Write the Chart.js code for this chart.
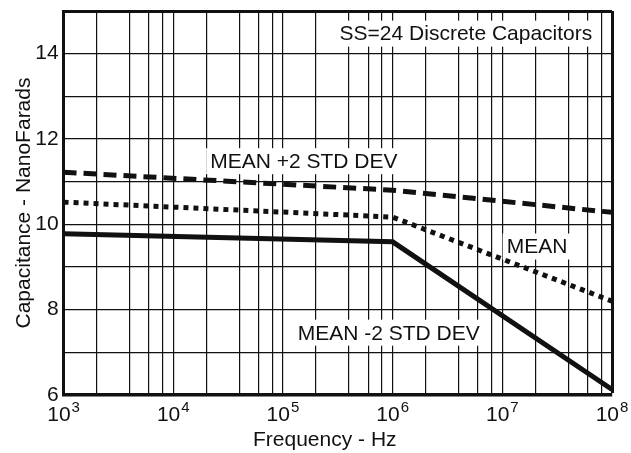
<!DOCTYPE html>
<html>
<head>
<meta charset="utf-8">
<script src="https://cdn.jsdelivr.net/npm/chart.js@4.4.1/dist/chart.umd.min.js"></script>
<style>
  html, body { margin: 0; padding: 0; background: #fff; }
  #wrap { width: 631px; height: 453px; }
</style>
</head>
<body>
<div id="wrap"><canvas id="c" width="631" height="453"></canvas></div>
<script>
// ---- data ----
const frequencies = [1e3, 1e6, 1e8];                 // Hz
const meanPlus2Std = [11.22, 10.80, 10.28];          // nF
const meanValues   = [10.52, 10.17, 8.20];           // nF
const meanMinus2Std = [9.78, 9.59, 6.13];            // nF
const decadeTicks = [1e3, 1e4, 1e5, 1e6, 1e7, 1e8];
const decadeExponents = ['3', '4', '5', '6', '7', '8'];
const gridMultipliers = [1, 2, 4, 6, 8];
const yLabelValues = [6, 8, 10, 12, 14];
const xAxisTitle = 'Frequency - Hz';

const annotationTexts = ['SS=24 Discrete Capacitors', 'MEAN +2 STD DEV', 'MEAN', 'MEAN -2 STD DEV'];
const annotationX = [4.66e6, 1.55e5, 2.07e7, 9.2e5];
const annotationY = [14.47, 11.48, 9.48, 7.46];

const FONT = '"Liberation Sans", Arial, Helvetica, sans-serif';
const INK = '#111';

function toPoints(xs, ys) { return xs.map((x, i) => ({ x: x, y: ys[i] })); }

const annotationPlugin = {
  id: 'annot',
  beforeDatasetsDraw(chart) {
    const ctx = chart.ctx, xs = chart.scales.x, ys = chart.scales.y;
    ctx.save();
    ctx.font = '21px ' + FONT;
    ctx.textAlign = 'center';
    ctx.textBaseline = 'middle';
    annotationTexts.forEach((t, i) => {
      const px = xs.getPixelForValue(annotationX[i]);
      const py = ys.getPixelForValue(annotationY[i]);
      const w = ctx.measureText(t).width;
      ctx.fillStyle = '#fff';
      ctx.fillRect(px - w / 2 - 4, py - 13, w + 8, 26);
      ctx.fillStyle = INK;
      ctx.fillText(t, px, py + 1);
    });
    ctx.restore();
  },
  afterDraw(chart) {
    const ctx = chart.ctx, xs = chart.scales.x, area = chart.chartArea;
    ctx.save();
    ctx.fillStyle = INK;
    ctx.textBaseline = 'alphabetic';
    decadeTicks.forEach((v, i) => {
      const px = xs.getPixelForValue(v);
      ctx.font = '21px ' + FONT;
      const wBase = ctx.measureText('10').width;
      ctx.font = '15px ' + FONT;
      const wExp = ctx.measureText(decadeExponents[i]).width;
      const left = px - (wBase + wExp + 1) / 2;
      ctx.font = '21px ' + FONT;
      ctx.textAlign = 'left';
      ctx.fillText('10', left, area.bottom + 26);
      ctx.font = '15px ' + FONT;
      ctx.fillText(decadeExponents[i], left + wBase + 1, area.bottom + 17);
    });
    // x-axis title, slightly left of centre as in the reference
    ctx.font = '21px ' + FONT;
    ctx.textAlign = 'center';
    ctx.textBaseline = 'middle';
    ctx.fillText(xAxisTitle, (area.left + area.right) / 2 - 13, area.bottom + 45);
    ctx.restore();
  }
};

new Chart(document.getElementById('c'), {
  type: 'line',
  data: {
    datasets: [
      { label: 'MEAN +2 STD DEV', data: toPoints(frequencies, meanPlus2Std),
        borderColor: INK, borderWidth: 5, borderDash: [13, 7], borderCapStyle: 'butt',
        pointRadius: 0, tension: 0, fill: false },
      { label: 'MEAN', data: toPoints(frequencies, meanValues),
        borderColor: INK, borderWidth: 5, borderDash: [5, 5], borderCapStyle: 'butt',
        pointRadius: 0, tension: 0, fill: false },
      { label: 'MEAN -2 STD DEV', data: toPoints(frequencies, meanMinus2Std),
        borderColor: INK, borderWidth: 5, borderCapStyle: 'butt', borderJoinStyle: 'miter',
        pointRadius: 0, tension: 0, fill: false }
    ]
  },
  options: {
    responsive: false,
    animation: false,
    devicePixelRatio: 1,
    layout: { padding: { left: 8, right: 19, top: 11, bottom: 58 } },
    plugins: { legend: { display: false }, tooltip: { enabled: false } },
    scales: {
      x: {
        type: 'logarithmic',
        min: 1e3, max: 1e8,
        afterBuildTicks(scale) {
          const t = [];
          decadeTicks.forEach((d, i) => {
            if (i === decadeTicks.length - 1) { t.push({ value: d }); return; }
            gridMultipliers.forEach(m => t.push({ value: d * m }));
          });
          scale.ticks = t;
        },
        ticks: { display: false },
        grid: {
          color: INK,
          lineWidth: (c) => (c.tick && c.tick.value === 1e8 ? 3 : 1.2),
          drawTicks: false
        },
        border: { display: true, color: INK, width: 3.5 },
        title: { display: false }
      },
      y: {
        min: 6, max: 15,
        afterFit(scale) { scale.paddingTop = 0; scale.paddingBottom = 0; },
        ticks: {
          stepSize: 1,
          color: INK,
          font: { family: FONT, size: 21 },
          padding: 5,
          callback: (v) => (yLabelValues.includes(v) ? String(v) : '')
        },
        grid: {
          color: INK,
          lineWidth: (c) => (c.tick && c.tick.value === 15 ? 3 : 1.2),
          drawTicks: false
        },
        border: { display: true, color: INK, width: 3 },
        title: { display: true, text: 'Capacitance - NanoFarads', color: INK,
                 font: { family: FONT, size: 21 }, padding: { top: 4, bottom: -7 } }
      }
    }
  },
  plugins: [annotationPlugin]
});
</script>
</body>
</html>
